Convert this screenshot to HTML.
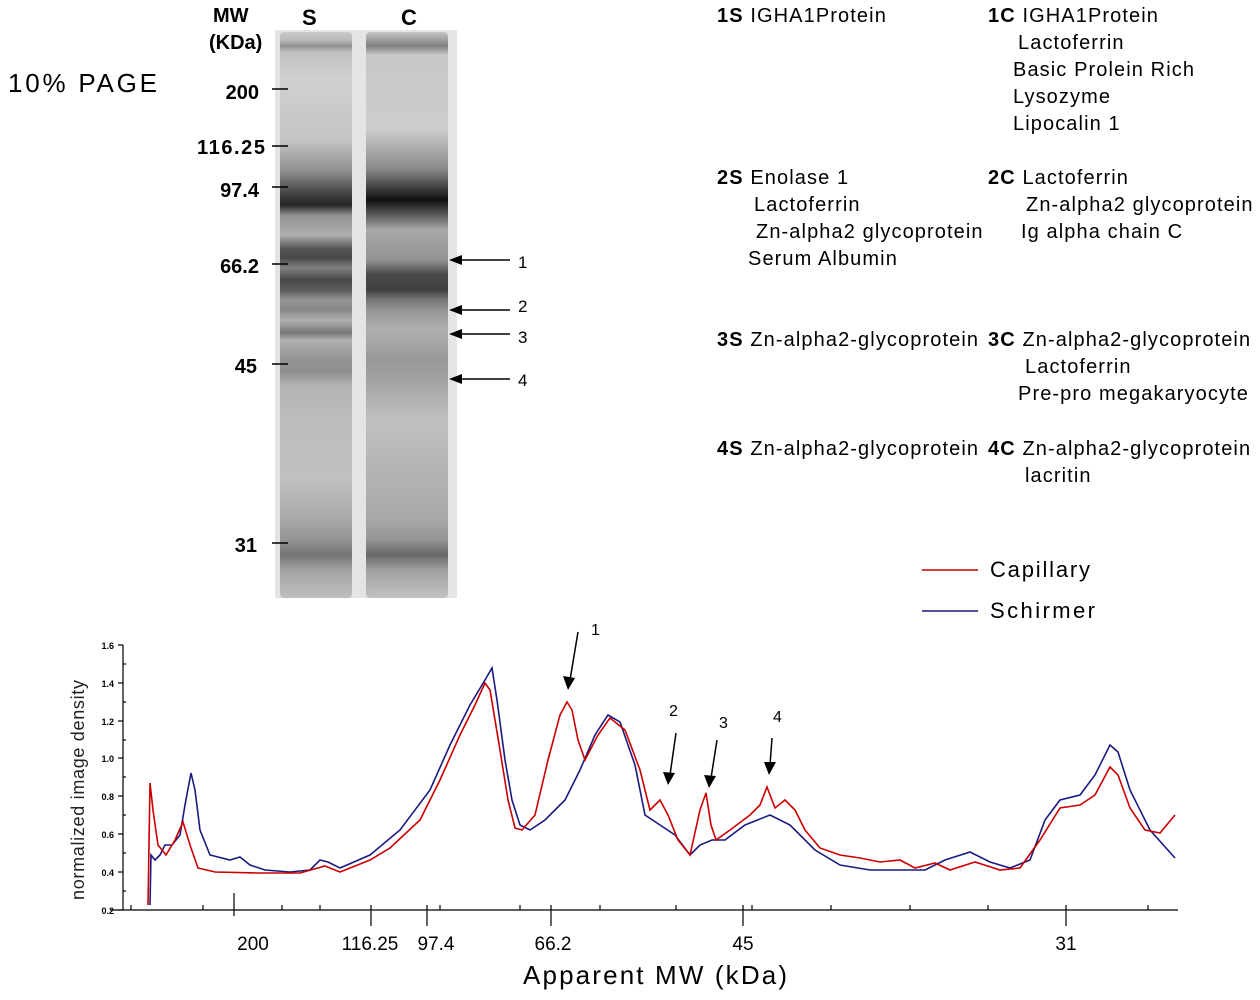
<!DOCTYPE html>
<html><head><meta charset="utf-8"><style>html,body{margin:0;padding:0;background:#fff}svg{display:block}</style></head><body>
<svg width="1260" height="1000" viewBox="0 0 1260 1000" xmlns="http://www.w3.org/2000/svg" font-family="Liberation Sans, Arial, sans-serif">
<defs>
<linearGradient id="gs" x1="0" y1="30" x2="0" y2="598" gradientUnits="userSpaceOnUse">
<stop offset="0" stop-color="#d0d0d0"/><stop offset="0.018" stop-color="#b8b8b8"/><stop offset="0.028" stop-color="#909090"/><stop offset="0.039" stop-color="#c0c0c0"/><stop offset="0.088" stop-color="#d0d0d0"/><stop offset="0.194" stop-color="#c4c4c4"/><stop offset="0.246" stop-color="#929292"/><stop offset="0.29" stop-color="#404040"/><stop offset="0.308" stop-color="#252525"/><stop offset="0.326" stop-color="#909090"/><stop offset="0.361" stop-color="#b0b0b0"/><stop offset="0.384" stop-color="#585858"/><stop offset="0.401" stop-color="#484848"/><stop offset="0.419" stop-color="#808080"/><stop offset="0.44" stop-color="#484848"/><stop offset="0.458" stop-color="#5c5c5c"/><stop offset="0.475" stop-color="#949494"/><stop offset="0.493" stop-color="#888"/><stop offset="0.511" stop-color="#b0b0b0"/><stop offset="0.533" stop-color="#787878"/><stop offset="0.546" stop-color="#b0b0b0"/><stop offset="0.581" stop-color="#929292"/><stop offset="0.602" stop-color="#909090"/><stop offset="0.625" stop-color="#b2b2b2"/><stop offset="0.687" stop-color="#bcbcbc"/><stop offset="0.792" stop-color="#c0c0c0"/><stop offset="0.863" stop-color="#a8a8a8"/><stop offset="0.898" stop-color="#949494"/><stop offset="0.924" stop-color="#727272"/><stop offset="0.951" stop-color="#a2a2a2"/><stop offset="1" stop-color="#c0c0c0"/>
</linearGradient>
<linearGradient id="gc" x1="0" y1="30" x2="0" y2="598" gradientUnits="userSpaceOnUse">
<stop offset="0" stop-color="#d0d0d0"/><stop offset="0.028" stop-color="#808080"/><stop offset="0.044" stop-color="#c8c8c8"/><stop offset="0.176" stop-color="#cccccc"/><stop offset="0.246" stop-color="#888"/><stop offset="0.299" stop-color="#101010"/><stop offset="0.326" stop-color="#5c5c5c"/><stop offset="0.352" stop-color="#a8a8a8"/><stop offset="0.405" stop-color="#929292"/><stop offset="0.431" stop-color="#484848"/><stop offset="0.458" stop-color="#404040"/><stop offset="0.475" stop-color="#787878"/><stop offset="0.496" stop-color="#989898"/><stop offset="0.528" stop-color="#b0b0b0"/><stop offset="0.581" stop-color="#989898"/><stop offset="0.616" stop-color="#a2a2a2"/><stop offset="0.687" stop-color="#c0c0c0"/><stop offset="0.863" stop-color="#a8a8a8"/><stop offset="0.898" stop-color="#949494"/><stop offset="0.924" stop-color="#686868"/><stop offset="0.951" stop-color="#a0a0a0"/><stop offset="1" stop-color="#c2c2c2"/>
</linearGradient>
</defs>

<!-- gel -->
<rect x="275" y="30" width="182" height="568" fill="#e4e4e4"/>
<rect x="280" y="32" width="72" height="566" rx="4" fill="url(#gs)"/>
<rect x="366" y="32" width="82" height="566" rx="4" fill="url(#gc)"/>

<g font-weight="bold" font-size="20" fill="#000">
<text x="213" y="22">MW</text><text x="209" y="49">(KDa)</text>
<text x="302" y="25" font-size="22">S</text><text x="401" y="25" font-size="22">C</text>
<text x="259" y="99" text-anchor="end">200</text>
<text x="265" y="154" text-anchor="end" textLength="68">116.25</text>
<text x="259" y="197" text-anchor="end">97.4</text>
<text x="259" y="273" text-anchor="end">66.2</text>
<text x="257" y="373" text-anchor="end">45</text>
<text x="257" y="552" text-anchor="end">31</text>
</g>
<text x="8" y="92" font-size="26" textLength="149">10% PAGE</text>
<g stroke="#000" stroke-width="1.5">
<line x1="272" y1="89" x2="288" y2="89"/><line x1="272" y1="146" x2="288" y2="146"/><line x1="272" y1="187" x2="288" y2="187"/><line x1="272" y1="264" x2="288" y2="264"/><line x1="272" y1="364" x2="288" y2="364"/><line x1="272" y1="543" x2="288" y2="543"/>
<line x1="455" y1="260" x2="510" y2="260"/><line x1="455" y1="310" x2="510" y2="310"/><line x1="455" y1="334" x2="510" y2="334"/><line x1="455" y1="379" x2="510" y2="379"/>
</g>
<g fill="#000">
<polygon points="449,260 462,255 462,265"/><polygon points="449,310 462,305 462,315"/><polygon points="449,334 462,329 462,339"/><polygon points="449,379 462,374 462,384"/>
</g>
<g font-size="17"><text x="518" y="268">1</text><text x="518" y="312">2</text><text x="518" y="343">3</text><text x="518" y="386">4</text></g>

<!-- protein text -->
<g font-size="20" fill="#000" letter-spacing="1.1">
<text x="717" y="22"><tspan font-weight="bold">1S</tspan> IGHA1Protein</text>
<text x="988" y="22"><tspan font-weight="bold">1C</tspan> IGHA1Protein</text>
<text x="1018" y="49">Lactoferrin</text>
<text x="1013" y="76">Basic Prolein Rich</text>
<text x="1013" y="103">Lysozyme</text>
<text x="1013" y="130">Lipocalin 1</text>
<text x="717" y="184"><tspan font-weight="bold">2S</tspan> Enolase 1</text>
<text x="754" y="211">Lactoferrin</text>
<text x="756" y="238">Zn-alpha2 glycoprotein</text>
<text x="748" y="265">Serum Albumin</text>
<text x="988" y="184"><tspan font-weight="bold">2C</tspan> Lactoferrin</text>
<text x="1026" y="211">Zn-alpha2 glycoprotein</text>
<text x="1021" y="238">Ig alpha chain C</text>
<text x="717" y="346"><tspan font-weight="bold">3S</tspan> Zn-alpha2-glycoprotein</text>
<text x="988" y="346"><tspan font-weight="bold">3C</tspan> Zn-alpha2-glycoprotein</text>
<text x="1025" y="373">Lactoferrin</text>
<text x="1018" y="400">Pre-pro megakaryocyte</text>
<text x="717" y="455"><tspan font-weight="bold">4S</tspan> Zn-alpha2-glycoprotein</text>
<text x="988" y="455"><tspan font-weight="bold">4C</tspan> Zn-alpha2-glycoprotein</text>
<text x="1025" y="482">lacritin</text>
</g>

<!-- legend -->
<line x1="922" y1="570" x2="978" y2="570" stroke="#c00" stroke-width="1.5"/>
<text x="990" y="577" font-size="22" textLength="100">Capillary</text>
<line x1="922" y1="611" x2="978" y2="611" stroke="#1a1a80" stroke-width="1.5"/>
<text x="990" y="618" font-size="22" textLength="105">Schirmer</text>

<!-- plot axes -->
<g stroke="#000" stroke-width="1.2">
<line x1="123" y1="645" x2="123" y2="910"/>
<line x1="110" y1="910" x2="1178" y2="910"/>
<line x1="118" y1="645" x2="123" y2="645"/><line x1="118" y1="683" x2="123" y2="683"/><line x1="118" y1="721" x2="123" y2="721"/><line x1="118" y1="758" x2="123" y2="758"/><line x1="118" y1="796" x2="123" y2="796"/><line x1="118" y1="834" x2="123" y2="834"/><line x1="118" y1="872" x2="123" y2="872"/><line x1="118" y1="910" x2="123" y2="910"/>
<line x1="123" y1="664" x2="126" y2="664"/><line x1="123" y1="702" x2="126" y2="702"/><line x1="123" y1="740" x2="126" y2="740"/><line x1="123" y1="777" x2="126" y2="777"/><line x1="123" y1="815" x2="126" y2="815"/><line x1="123" y1="853" x2="126" y2="853"/><line x1="123" y1="891" x2="126" y2="891"/>
<line x1="234" y1="893" x2="234" y2="916"/><line x1="371" y1="905" x2="371" y2="926"/><line x1="427" y1="905" x2="427" y2="926"/><line x1="551" y1="905" x2="551" y2="926"/><line x1="743" y1="905" x2="743" y2="926"/><line x1="1066" y1="905" x2="1066" y2="926"/>
<line x1="131" y1="905" x2="131" y2="910"/><line x1="203" y1="905" x2="203" y2="910"/><line x1="282" y1="905" x2="282" y2="910"/><line x1="320" y1="905" x2="320" y2="910"/><line x1="440" y1="905" x2="440" y2="910"/><line x1="520" y1="905" x2="520" y2="910"/><line x1="600" y1="905" x2="600" y2="910"/><line x1="676" y1="905" x2="676" y2="910"/><line x1="752" y1="905" x2="752" y2="910"/><line x1="831" y1="905" x2="831" y2="910"/><line x1="910" y1="905" x2="910" y2="910"/><line x1="988" y1="905" x2="988" y2="910"/><line x1="1148" y1="905" x2="1148" y2="910"/>
</g>
<g font-size="9" font-weight="bold" text-anchor="end">
<text x="114" y="649">1.6</text><text x="114" y="687">1.4</text><text x="114" y="725">1.2</text><text x="114" y="762">1.0</text><text x="114" y="800">0.8</text><text x="114" y="838">0.6</text><text x="114" y="876">0.4</text><text x="114" y="914">0.2</text>
</g>
<text transform="translate(84,790) rotate(-90)" font-size="18" text-anchor="middle" fill="#222" textLength="220">normalized image density</text>
<g font-size="19" text-anchor="middle">
<text x="253" y="950">200</text><text x="370" y="950">116.25</text><text x="436" y="950">97.4</text><text x="553" y="950">66.2</text><text x="743" y="950">45</text><text x="1066" y="950">31</text>
</g>
<text x="523" y="984" font-size="26" textLength="264">Apparent MW (kDa)</text>

<!-- curves -->
<polyline fill="none" stroke="#1a1a80" stroke-width="1.6" points="150,905 151,855 155,860 160,855 165,845 172,845 180,835 185,805 191,773 195,790 200,830 210,855 230,860 240,857 250,865 265,870 290,872 310,870 320,860 328,862 340,868 370,855 400,830 430,790 450,745 470,705 485,680 492,668 497,700 505,760 512,800 520,825 530,830 545,820 565,800 580,770 595,735 608,715 620,722 635,765 645,815 660,825 675,835 690,855 700,845 712,840 725,840 745,825 770,815 790,825 815,850 840,865 870,870 900,870 925,870 945,860 970,852 990,862 1010,868 1030,860 1045,820 1060,800 1080,795 1095,775 1110,745 1118,752 1130,790 1150,830 1175,858"/>
<polyline fill="none" stroke="#c00" stroke-width="1.6" points="148,905 150,783 153,810 158,845 166,855 175,840 183,822 190,845 198,868 215,872 260,873 300,873 325,866 340,872 370,860 390,848 420,820 440,780 460,735 475,705 485,683 490,690 500,750 508,800 515,828 522,830 535,815 548,760 560,715 567,702 572,710 578,740 585,760 598,735 610,718 625,730 640,770 650,810 660,800 668,815 678,840 690,855 700,810 706,793 711,825 716,840 730,830 750,815 760,805 767,787 775,808 785,800 795,810 805,830 820,848 840,855 860,858 880,862 900,860 915,868 935,863 950,870 975,862 1000,870 1020,868 1040,840 1060,808 1080,805 1095,795 1110,767 1118,775 1130,808 1145,830 1160,833 1175,815"/>

<!-- plot arrows -->
<g stroke="#000" stroke-width="1.5">
<line x1="578" y1="632" x2="570" y2="680"/><line x1="676" y1="733" x2="670" y2="775"/><line x1="717" y1="740" x2="711" y2="778"/><line x1="772" y1="738" x2="770" y2="765"/>
</g>
<g fill="#000">
<polygon points="568,690 563,676 575,678"/><polygon points="668,785 663,772 675,773"/><polygon points="709,788 704,775 716,776"/><polygon points="769,775 764,762 776,762"/>
</g>
<g font-size="16"><text x="591" y="635">1</text><text x="669" y="716">2</text><text x="719" y="728">3</text><text x="773" y="722">4</text></g>
</svg>
</body></html>
